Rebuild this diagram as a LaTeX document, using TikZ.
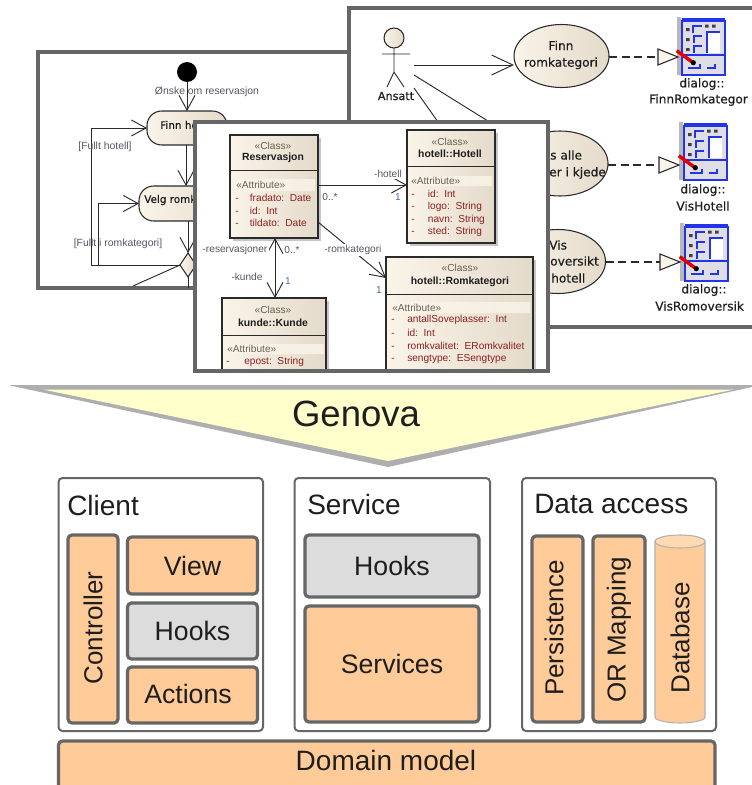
\documentclass[tikz,border=0pt]{standalone}
\usepackage{fontspec}
\setmainfont{Liberation Sans}
\newfontfamily\umlfont[RawFeature={embolden=0.5}]{DejaVu Sans}
\usetikzlibrary{arrows.meta,shapes.geometric}
\definecolor{framegray}{HTML}{666666}
\definecolor{bodyorange}{HTML}{FFCC99}
\definecolor{hookgray}{HTML}{DCDCDC}
\definecolor{funnelyellow}{HTML}{FFFFCC}
\definecolor{funnelline}{HTML}{AEAEAE}
\definecolor{umlbeigeL}{HTML}{FAF4E9}
\definecolor{umlbeigeR}{HTML}{E4DACA}
\definecolor{umlline}{HTML}{2A2A2A}
\definecolor{attrred}{HTML}{8B2020}
\definecolor{stereo}{HTML}{6A5F4E}
\definecolor{labelgray}{HTML}{555560}
\definecolor{mult}{HTML}{4A6AB0}
\definecolor{textdark}{HTML}{1E1E1E}
\definecolor{dlgblue}{HTML}{2233E8}
\definecolor{dlgbg}{HTML}{DEDEE4}
\tikzset{
  pxbox/.style 2 args={minimum width=#1*0.75pt,minimum height=#2*0.75pt,inner sep=0pt,outer sep=0pt},
  frameview/.style={draw=framegray,line width=2.8pt,fill=white},
  layerbox/.style={draw=framegray,line width=1.5pt,fill=white,rounded corners=3pt,anchor=north west},
  partbox/.style={draw=framegray,line width=2.4pt,fill=bodyorange,rounded corners=3pt,anchor=north west,text=textdark,font=\fontsize{20}{22}\selectfont},
  hookbox/.style={partbox,fill=hookgray},
  layertitle/.style={anchor=west,inner sep=0pt,text=textdark,font=\fontsize{21}{23}\selectfont},
  vtext/.style={rotate=90,inner sep=0pt,text=textdark,font=\fontsize{19.5}{22}\selectfont},
  umlshape/.style={draw=umlline,line width=0.8pt,left color=umlbeigeL,right color=umlbeigeR},
  classbox/.style={umlshape,anchor=north west},
  smalltxt/.style={inner sep=0pt,text=labelgray,font=\fontsize{7.8}{9}\selectfont},
  steotxt/.style={inner sep=0pt,text=stereo,font=\fontsize{7.6}{9}\selectfont},
  nametxt/.style={inner sep=0pt,text=textdark,font=\fontsize{7.8}{9}\bfseries\selectfont},
  attrtxt/.style={inner sep=0pt,anchor=west,text=attrred,font=\fontsize{7.6}{9}\selectfont},
  multtxt/.style={inner sep=0pt,text=mult,font=\fontsize{7.6}{9}\selectfont},
  ucasetxt/.style={inner sep=0pt,text=textdark,font=\umlfont\fontsize{9.1}{12.5}\selectfont,align=center},
  acttxt/.style={inner sep=0pt,anchor=west,text=textdark,font=\umlfont\fontsize{7.8}{9}\selectfont},
  openarrow/.style={-{Straight Barb[length=11pt,width=12pt]},line width=0.7pt,draw=umlline},
  bigopen/.style={-{Straight Barb[length=16pt,width=15pt]},line width=0.7pt,draw=umlline},
  bothopen/.style={{Straight Barb[length=11pt,width=12pt]}-{Straight Barb[length=11pt,width=12pt]},line width=0.7pt,draw=umlline},
  plainline/.style={line width=0.7pt,draw=umlline},
  realize/.style={dash pattern=on 6pt off 3.5pt,line width=0.9pt,draw=umlline},
  hollowtri/.style={draw=umlline,line width=0.8pt,fill=umlbeigeL},
  dlgicon/.pic={
    \fill[gray!55] (0.5,0) rectangle (5,58);
    \fill[dlgbg] (6,4) rectangle (49,58);
    \draw[dlgblue,line width=1.5pt] (6,3) -- (6,58) -- (49,58) -- (49,3);
    \draw[dlgblue,line width=2.4pt] (6,3) -- (49,3);
    \fill[white] (31,15) rectangle (44,36);
    \draw[dlgblue,line width=1.2pt] (44,15) -- (31,15) -- (31,36);
    \draw[dlgblue,line width=1.8pt] (17,16) -- (17,9) -- (26,9) (18,26) -- (18,19) -- (26,19) (18,36) -- (18,29) -- (26,29);
    \fill[black!75] (10,11) rectangle (13.5,14) (10,21) rectangle (13.5,24) (10,31) rectangle (13.5,34) (29,7.5) rectangle (32.5,10.5) (36,7.5) rectangle (39.5,10.5);
    \draw[dlgblue,line width=1pt] (7,38) -- (48,38);
    \draw[dlgblue,line width=1.9pt] (12,51) -- (24,51) -- (24,47) (31,51) -- (39,51) -- (39,47);
    \draw[red!90!black,line width=2.6pt] (0.7,33.7) -- (15.7,44.7);
    \fill[black] (17.3,45.7) circle (2.6);
  }
}
\begin{document}
\begin{tikzpicture}[x=0.75pt,y=-0.75pt]
\clip (0,0) rectangle (752,785);
\fill[white] (0,0) rectangle (752,785);

% ---------- activity view
\node[frameview,anchor=north west,pxbox={362}{236}] (actFrame) at (38,52) {};
\node[fill=black,circle,pxbox={20}{20}] (startNode) at (187,72) {};
\node[umlshape,rounded corners=11pt,pxbox={80}{34},anchor=north west] (finnHotell) at (147,111) {};
\node[acttxt] (finnText) at (160,125) {Finn ho};
\node[umlshape,rounded corners=11pt,pxbox={102}{35},anchor=north west] (velgRom) at (139,186) {};
\node[acttxt] (velgText) at (144,200) {Velg romk};
\node[diamond,umlshape,pxbox={16}{24}] (decision) at (188,265) {};
\draw[openarrow] (startNode.south) -- (startNode.south |- finnHotell.north);
\draw[openarrow] (186,145) -- (186,186);
\draw[openarrow] (188,221) -- (decision.north);
\draw[openarrow] (decision.west) -- ++(-89,0) |- (finnHotell.west);
\draw[openarrow] (decision.west) -- (98,265) |- (velgRom.west);
\coordinate (actOutA) at (133,286);
\coordinate (actOutB) at (188,288);
\draw[plainline] (decision.west) -- (actOutA);
\draw[plainline] (decision.south) -- (actOutB);
\node[smalltxt] (wishLabel) at (207,92) {Ønske om reservasjon};
\node[smalltxt] (fullHotel) at (105,147) {[Fullt hotell]};
\node[smalltxt] (fullRoom) at (118,244) {[Fullt i romkategori]};

% ---------- use case view
\node[frameview,anchor=north west,pxbox={430}{319}] (ucFrame) at (349,8) {};
\node[circle,umlshape,pxbox={20}{20}] (actorHead) at (394,38) {};
\coordinate (actorHip) at (394,72);
\draw[plainline] (actorHead.south) -- (actorHip) -- (387,87) (actorHip) -- (404,87) (382,54) -- (410,54);
\node[inner sep=0pt,text=textdark,font=\umlfont\fontsize{8.4}{10}\selectfont] (ansatt) at (396,96) {Ansatt};
\node[ellipse,umlshape,pxbox={95}{63}] (ucA) at (561.5,56) {};
\node[ucasetxt] (ucAt) at (561,55) {Finn\\romkategori};
\node[ellipse,umlshape,pxbox={96}{65}] (ucB) at (560,163.5) {};
\node[ellipse,umlshape,pxbox={95}{64}] (ucC) at (558,261.5) {};
\coordinate (actorA) at (414,65);
\coordinate (actorB) at (414,75);
\coordinate (actorC) at (414,88);
\draw[bigopen] (actorA) -- (ucA.west |- actorA);
\coordinate (ucBin) at (512,136);
\coordinate (ucCin) at (525,245);
\draw[plainline] (actorB) -- (ucBin);
\draw[plainline] (actorC) -- (ucCin);
\node[ucasetxt,anchor=west] (ucBa) at (550,155) {s alle};
\node[ucasetxt,anchor=west] (ucBb) at (549,173) {er i kjede};
\node[ucasetxt,anchor=west] (ucCa) at (549,245) {Vis};
\node[ucasetxt,anchor=west] (ucCb) at (550,261) {oversikt};
\node[ucasetxt,anchor=west] (ucCc) at (551,278) {hotell};

\coordinate (triA) at (658,57);
\coordinate (triB) at (659,165);
\coordinate (triC) at (660,262);
\draw[realize] (ucA.east |- triA) -- (triA);
\draw[realize] (ucB.east |- triB) -- (triB);
\draw[realize] (ucC.east |- triC) -- (triC);
\pic at (676,17) {dlgicon};
\pic at (678,122) {dlgicon};
\pic at (679,223) {dlgicon};
\draw[hollowtri] (triA) ++(0,-8) -- ++(20,8) -- ++(-20,8) -- cycle;
\draw[hollowtri] (triB) ++(0,-8) -- ++(20,8) -- ++(-20,8) -- cycle;
\draw[hollowtri] (triC) ++(0,-8) -- ++(20,8) -- ++(-20,8) -- cycle;
\node[ucasetxt] (dlgAa) at (702,84) {dialog::};
\node[ucasetxt,anchor=west] (dlgAb) at (649,100) {FinnRomkategor};
\node[ucasetxt] (dlgBa) at (703,190) {dialog::};
\node[ucasetxt] (dlgBb) at (703,206) {VisHotell};
\node[ucasetxt] (dlgCa) at (704,290) {dialog::};
\node[ucasetxt,anchor=west] (dlgCb) at (655,306) {VisRomoversik};

% ---------- class view
\node[draw=none,fill=white,anchor=north west,pxbox={353}{249}] (clsFrameFill) at (195,122) {};
\begin{scope}
\clip (195,122) rectangle (548,370);
\fill[black!22] (233,138) rectangle (321,241);
\fill[black!22] (410,133) rectangle (498,246);
\fill[black!22] (225,301) rectangle (329,380);
\fill[black!22] (389,260) rectangle (536,380);

\node[classbox,pxbox={88}{103}] (reserv) at (230,135) {};
\node[classbox,pxbox={88}{113}] (hotell) at (407,130) {};
\node[classbox,pxbox={104}{90}] (kunde) at (222,298) {};
\node[classbox,pxbox={147}{125}] (romkat) at (386,257) {};

\draw[plainline] (230,170) -- (318,170) (407,166) -- (495,166) (222,335) -- (326,335) (386,294) -- (533,294);
\fill[umlbeigeL,opacity=.8] (232,179) rectangle (315,191) (410,176) rectangle (492,186) (224,344) rectangle (324,354) (389,302) rectangle (530,313);

\node[steotxt] (rS) at (273,146) {«Class»};
\node[nametxt] (rN) at (273,158) {Reservasjon};
\node[steotxt,anchor=west] (rA) at (236,185) {«Attribute»};
\node[attrtxt] (rA1) at (235,198) {\makebox[11pt][l]{-}fradato:\ \ Date};
\node[attrtxt] (rA2) at (235,211) {\makebox[11pt][l]{-}id:\ \ Int};
\node[attrtxt] (rA3) at (235,223) {\makebox[11pt][l]{-}tildato:\ \ Date};

\node[steotxt] (hS) at (450,142) {«Class»};
\node[nametxt] (hN) at (450,154) {hotell::Hotell};
\node[steotxt,anchor=west] (hA) at (411,181) {«Attribute»};
\node[attrtxt] (hA1) at (411,194) {\makebox[12.5pt][l]{-}id:\ \ Int};
\node[attrtxt] (hA2) at (411,207) {\makebox[12.5pt][l]{-}logo:\ \ String};
\node[attrtxt] (hA3) at (411,220) {\makebox[12.5pt][l]{-}navn:\ \ String};
\node[attrtxt] (hA4) at (411,232) {\makebox[12.5pt][l]{-}sted:\ \ String};

\node[steotxt] (kS) at (273,310) {«Class»};
\node[nametxt] (kN) at (273,323) {kunde::Kunde};
\node[steotxt,anchor=west] (kA) at (227,349) {«Attribute»};
\node[attrtxt] (kA1) at (226,362) {\makebox[13.5pt][l]{-}epost:\ \ String};

\node[steotxt] (mS) at (460,268) {«Class»};
\node[nametxt] (mN) at (460,282) {hotell::Romkategori};
\node[steotxt,anchor=west] (mA) at (392,308) {«Attribute»};
\node[attrtxt] (mA1) at (391,320) {\makebox[12pt][l]{-}antallSoveplasser:\ \ Int};
\node[attrtxt] (mA2) at (391,333) {\makebox[12pt][l]{-}id:\ \ Int};
\node[attrtxt] (mA3) at (391,346) {\makebox[12pt][l]{-}romkvalitet:\ \ ERomkvalitet};
\node[attrtxt] (mA4) at (391,359) {\makebox[12pt][l]{-}sengtype:\ \ ESengtype};
\end{scope}

\draw[openarrow] (reserv.east |- 0,185) -- (hotell.west |- 0,185);
\draw[openarrow] (reserv.east |- 0,222) -- (romkat.west |- 0,278);
\draw[bothopen] (275,238) -- (275,298);

\node[fill=white,inner sep=1pt,text=labelgray,font=\fontsize{7.6}{9}\selectfont] (lR) at (353,250) {-romkategori};
\node[multtxt] (mR1) at (379,290) {1};
\node[smalltxt,font=\fontsize{7.6}{9}\selectfont,fill=white,inner sep=1pt] (lH) at (388,174) {-hotell};
\node[multtxt] (mH1) at (398,197) {1};
\node[smalltxt,font=\fontsize{7.6}{9}\selectfont] (mH0) at (330,197) {0..*};
\node[smalltxt,font=\fontsize{7.6}{9}\selectfont,fill=white,inner sep=1pt] (lRes) at (235,250) {-reservasjoner};
\node[smalltxt,font=\fontsize{7.6}{9}\selectfont] (mRes) at (292,250) {0..*};
\node[smalltxt,font=\fontsize{7.6}{9}\selectfont] (lK) at (247,277) {-kunde};
\node[multtxt] (mK) at (288,281) {1};

\draw[framegray,line width=2.8pt] (clsFrameFill.north west) rectangle (clsFrameFill.south east);

% ---------- funnel
\fill[funnelline] (10,385.5) -- (11,385) -- (752,385) -- (752,387) -- (388,467) -- cycle;
\fill[funnelyellow] (43,389.5) -- (734,389.5) -- (388,461) -- cycle;
\node[inner sep=0pt,text=textdark,font=\fontsize{27.4}{30}\selectfont] (genova) at (356,414) {Genova};

% ---------- layers
\node[layerbox,pxbox={204.5}{253}] (client) at (58.5,478) {};
\node[layerbox,pxbox={195.5}{253}] (service) at (294.5,478) {};
\node[layerbox,pxbox={194}{253}] (dataacc) at (522,478) {};
\node[layertitle] (clientT) at (67,505) {Client};
\node[layertitle] (serviceT) at (307,504) {Service};
\node[layertitle] (dataT) at (534,504) {Data access};

\node[partbox,pxbox={50}{188}] (controller) at (68,535) {};
\node[vtext] (controllerT) at (93,628) {Controller};
\node[partbox,pxbox={130}{57}] (view) at (127.5,537) {View};
\node[hookbox,pxbox={130}{56}] (hooksC) at (127.5,603) {Hooks};
\node[partbox,pxbox={130}{56}] (actions) at (127.5,667) {};
\node[inner sep=0pt,text=textdark,font=\fontsize{20}{22}\selectfont] (actionsT) at (188,694) {Actions};

\node[hookbox,pxbox={174}{62}] (hooksS) at (305,535) {Hooks};
\node[partbox,pxbox={174}{116}] (services) at (305,606) {Services};

\node[partbox,pxbox={51}{186}] (persist) at (532,536) {};
\node[vtext] (persistT) at (554,628) {Persistence};
\node[partbox,pxbox={52}{186}] (ormap) at (593,536) {};
\node[vtext] (ormapT) at (619,630) {OR Mapping};

\path[draw=black!30,line width=0.8pt,fill=bodyorange] (655,541.5) -- (655,717) arc[start angle=180,end angle=360,x radius=25,y radius=-6] -- (705,541.5) arc[start angle=0,end angle=180,x radius=25,y radius=-6] -- cycle;
\path[draw=black!30,line width=0.8pt,fill=bodyorange!75!white] (680,541.5) ellipse[x radius=25,y radius=6.5];
\node[vtext] (databaseT) at (680,638) {Database};

\node[partbox,pxbox={656.5}{60}] (domain) at (58.5,741) {};
\node[inner sep=0pt,text=textdark,font=\fontsize{21}{23}\selectfont] (domainT) at (386,760) {Domain model};
\end{tikzpicture}
\end{document}
